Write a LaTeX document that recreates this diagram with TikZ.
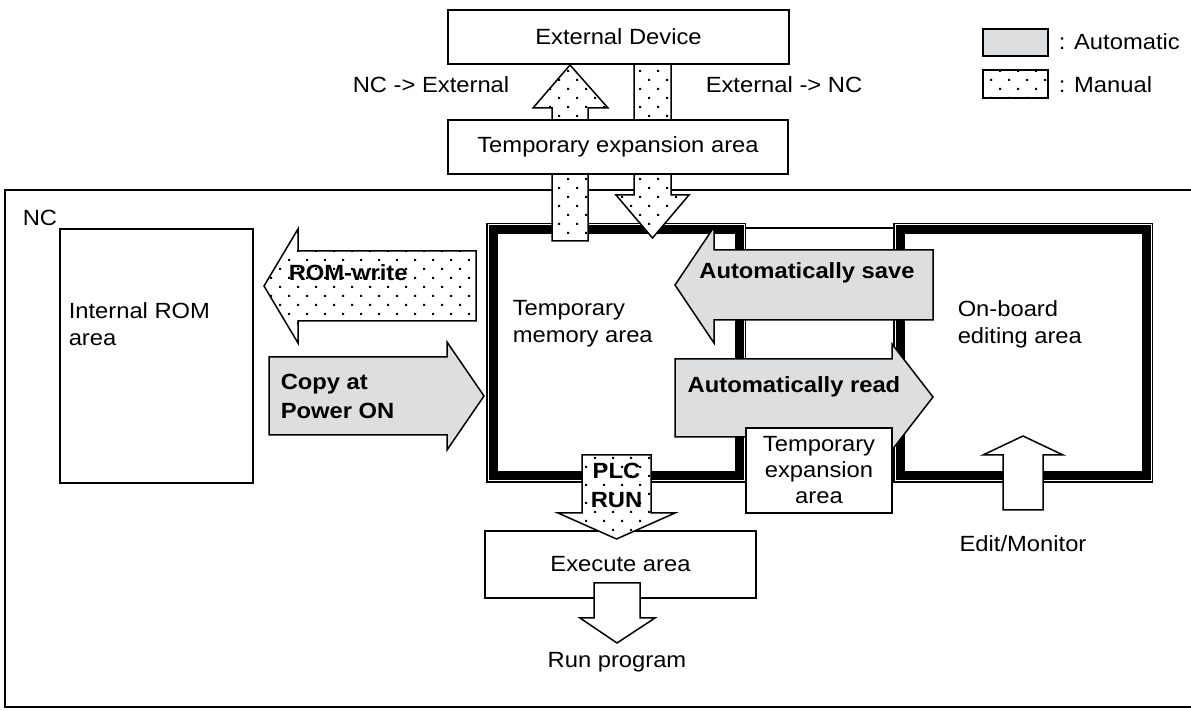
\documentclass[tikz,border=0pt]{standalone}
\usepackage{fontspec}
\setmainfont{Liberation Sans}[FakeStretch=1.08]
\usepackage{tikz}
\usetikzlibrary{patterns}
\definecolor{auto_gray}{HTML}{DDDEDF}
% sparse staggered dots for the manual arrows
\pgfdeclarepatternformonly{manual dots}{\pgfpoint{-1pt}{-1pt}}{\pgfpoint{10pt}{10pt}}{\pgfpoint{9pt}{9pt}}{%
  \pgfpathrectangle{\pgfpoint{0pt}{0pt}}{\pgfpoint{1pt}{1pt}}%
  \pgfpathrectangle{\pgfpoint{4.5pt}{4.5pt}}{\pgfpoint{1pt}{1pt}}%
  \pgfusepath{fill}}

\begin{document}
\begin{tikzpicture}[
    x=0.5pt, y=-0.5pt,
    line width=0.75pt,
    txt/.style={inner sep=0pt, font=\fontsize{11}{13.5}\selectfont},
    boldtxt/.style={inner sep=0pt, font=\fontsize{11}{14.5}\selectfont\bfseries},
    box/.style={draw, fill=white, inner sep=0pt, font=\fontsize{11}{13}\selectfont},
    autofill/.style={draw, fill=auto_gray},
    manualfill/.style={draw, preaction={fill=white}, pattern=manual dots},
    plainfill/.style={draw, fill=white}
]
\useasboundingbox (0,0) rectangle (1191,711);

% NC frame (right side runs off the page)
\draw (1195,190) -- (5,190) -- (5,707) -- (1195,707);
\node[txt, anchor=west] (nc) at (22,218) {NC};

% Internal ROM area
\draw (60,229) rectangle (253,483);
\node[txt, anchor=west, align=left] (rom) at (68,324) {Internal ROM\\area};

% Temporary memory area: heavy frame
\draw[line width=5.75pt] (491.75,228.75) rectangle (740.25,477.25);
\draw[white, line width=0.5pt] (488,225) rectangle (744,481);
\node[txt, anchor=west, align=left] (tmpmem) at (512,324) {Temporary\\memory area};

% On-board editing area: heavy frame
\draw[line width=5.75pt] (898.75,228.75) rectangle (1147.25,477.25);
\draw[white, line width=0.5pt] (895,225) rectangle (1151,481);
\node[txt, anchor=west, align=left] (onboard) at (957,324) {On-board\\editing area};
\draw (746,228) -- (893,228);

% External device and the transfer arrows
\draw[manualfill] (552,241) -- (552,108) -- (533,108) -- (570,65) -- (608,108)
    -- (588,108) -- (588,241) -- cycle;
\draw[manualfill] (634,64) -- (634,195) -- (616,195) -- (652.5,238) -- (689,195)
    -- (671,195) -- (671,64) -- cycle;
\node[box, minimum width=170.5pt, minimum height=27pt] (ext) at (618.5,37) {External Device};
\node[box, minimum width=170pt, minimum height=27pt] (tmptop) at (618,147) {Temporary expansion area};
\node[txt] (ncext) at (431,85) {NC -> External};
\node[txt] (extnc) at (784,85) {External -> NC};

% ROM-write (manual, to the left)
\draw[manualfill] (476,251) -- (298,251) -- (298,229) -- (264,286) -- (298,343)
    -- (298,321) -- (476,321) -- cycle;
\node[boldtxt, anchor=west] (romwrite) at (288,273) {ROM-write};

% Copy at Power ON (automatic, to the right)
\draw[autofill] (269,357) -- (447,357) -- (447,342) -- (484,396) -- (447,450)
    -- (447,435) -- (269,435) -- cycle;
\node[boldtxt, anchor=west, align=left] (copyon) at (280,396) {Copy at\\Power ON};

% Automatically save / read
\draw[autofill] (933,250) -- (714,250) -- (714,227) -- (675,285) -- (714,343)
    -- (714,320) -- (933,320) -- cycle;
\node[boldtxt] (autosave) at (807,273) {Automatically save};
\draw[autofill] (675,359) -- (892,359) -- (892,344) -- (933,397) -- (892,450)
    -- (892,437) -- (675,437) -- cycle;
\node[boldtxt] (autoread) at (794,387) {Automatically read};
\node[box, align=center, minimum width=73pt, minimum height=42.5pt] (tmpmid) at (819,470.5)
    {Temporary\\expansion\\area};

% Execute area and PLC RUN
\node[box, minimum width=135.5pt, minimum height=33.5pt] (exec) at (620.5,564.5) {Execute area};
\draw[manualfill] (582,455) -- (582,513) -- (558,513) -- (616.5,539) -- (675,513)
    -- (651,513) -- (651,455) -- cycle;
\node[boldtxt, align=center] (plcrun) at (616.5,485) {PLC\\RUN};
\draw[plainfill] (594,583) -- (594,618) -- (580,618) -- (617,643) -- (655,618)
    -- (640,618) -- (640,583) -- cycle;
\node[txt] (runprog) at (617,662) {Run program};

% Edit/Monitor
\draw[plainfill] (1003,510) -- (1003,455) -- (983,455) -- (1023,436) -- (1063,455)
    -- (1043,455) -- (1043,510) -- cycle;
\node[txt] (editmon) at (1023,544) {Edit/Monitor};

% Legend
\draw[autofill] (983,29) rectangle (1048,56);
\node[txt, anchor=west] (legauto) at (1058,42) {: Automatic};
\draw[manualfill] (983,70) rectangle (1048,98);
\node[txt, anchor=west] (legman) at (1058,85) {: Manual};

\end{tikzpicture}
\end{document}
